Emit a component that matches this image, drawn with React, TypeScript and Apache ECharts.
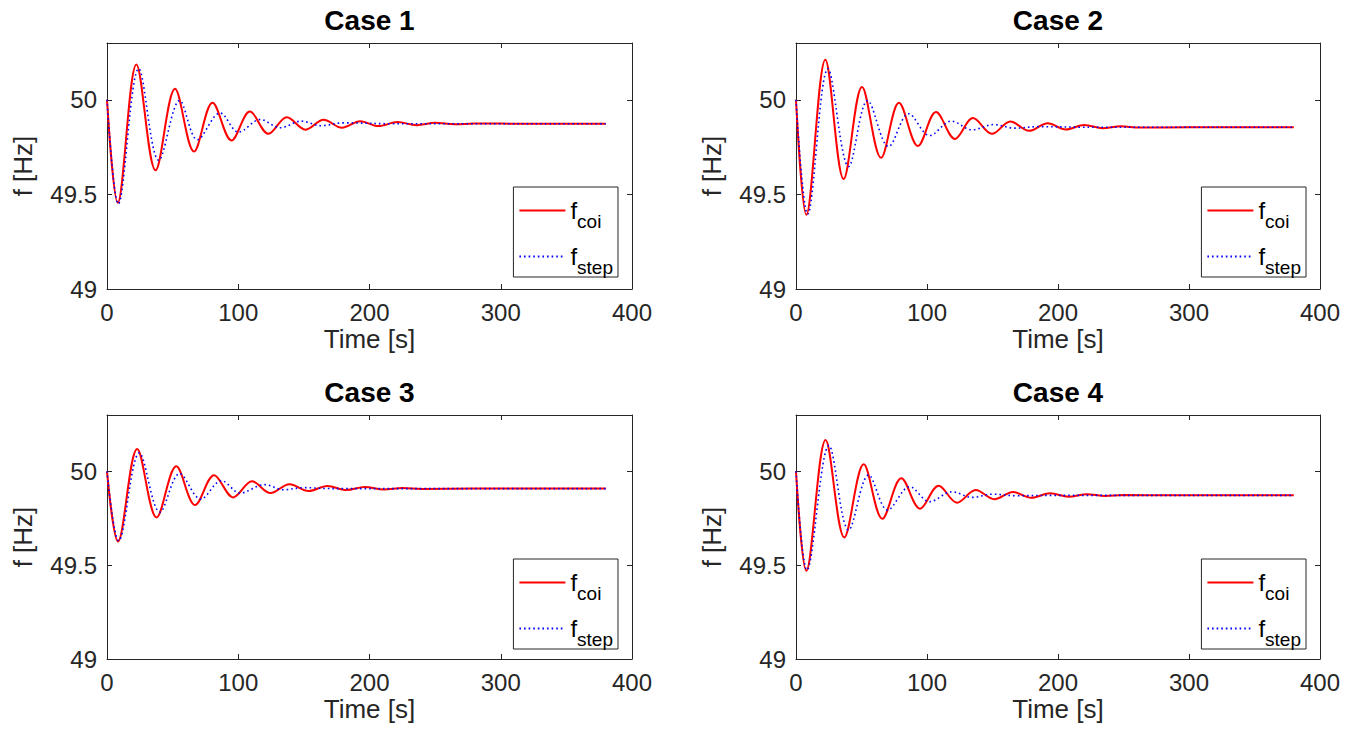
import React, { useEffect, useRef } from "react";
import * as echarts from "echarts";

// ---------- data ----------
const caseTitles = ["Case 1", "Case 2", "Case 3", "Case 4"];
const xTicks = { min: 0, max: 400, interval: 100 };
const yTicks = { min: 49, max: 50.3, interval: 0.5 };

// Case 1
const c1CoiT = [0, 8.2, 22.4, 37.0, 51.8, 66.3, 80.4, 94.9, 108.9, 123.0, 137.0, 151.3, 165.0, 179.0, 193.0, 206.6, 221.4, 236, 250, 265, 280, 320, 380];
const c1CoiF = [50.0, 49.456, 50.187, 49.627, 50.058, 49.727, 49.984, 49.785, 49.938, 49.82, 49.908, 49.842, 49.894, 49.852, 49.887, 49.861, 49.882, 49.866, 49.878, 49.87, 49.875, 49.873, 49.873];
const c1StepT = [0, 8.6, 24.2, 39.5, 55.4, 68.9, 86.2, 100.3, 116.8, 132, 148, 163, 180, 220, 380];
const c1StepF = [50.0, 49.45, 50.164, 49.68, 49.996, 49.789, 49.93, 49.829, 49.896, 49.852, 49.887, 49.863, 49.878, 49.873, 49.873];

// Case 2
const c2CoiT = [0, 7.9, 22.4, 36.4, 50.4, 64.9, 78.6, 93.1, 106.9, 121.4, 135.1, 149.6, 163.6, 177.9, 192.1, 206, 220, 234, 248, 262, 300, 380];
const c2CoiF = [50.0, 49.392, 50.212, 49.581, 50.067, 49.693, 49.984, 49.756, 49.935, 49.793, 49.903, 49.82, 49.885, 49.836, 49.876, 49.843, 49.867, 49.85, 49.86, 49.853, 49.855, 49.855];
const c2StepT = [0, 8.9, 24.4, 40.2, 54.7, 70.7, 86.0, 102.0, 118.6, 134.4, 150.9, 167, 185, 220, 380];
const c2StepF = [50.0, 49.396, 50.164, 49.647, 49.996, 49.753, 49.926, 49.811, 49.887, 49.841, 49.869, 49.85, 49.858, 49.855, 49.855];

// Case 3
const c3CoiT = [0, 8.4, 23.0, 37.8, 52.8, 67.1, 81.6, 96.2, 110.5, 124.5, 139.0, 153.6, 167.9, 182.4, 196.4, 211, 225, 240, 280, 380];
const c3CoiF = [50.0, 49.626, 50.119, 49.754, 50.027, 49.82, 49.979, 49.861, 49.947, 49.884, 49.931, 49.895, 49.922, 49.9, 49.916, 49.903, 49.911, 49.906, 49.908, 49.908];
const c3StepT = [0, 8.9, 24.7, 40.3, 55.4, 71.4, 87.2, 101.5, 119.9, 134.7, 150, 170, 380];
const c3StepF = [50.0, 49.63, 50.098, 49.783, 49.988, 49.852, 49.95, 49.884, 49.929, 49.902, 49.913, 49.908, 49.908];

// Case 4
const c4CoiT = [0, 7.9, 22.6, 36.9, 51.7, 65.9, 80.4, 94.7, 108.9, 122.9, 137.2, 151.4, 165.6, 179.6, 194.1, 208.1, 222, 236, 250, 290, 380];
const c4CoiF = [50.0, 49.47, 50.167, 49.648, 50.037, 49.747, 49.963, 49.801, 49.923, 49.833, 49.9, 49.851, 49.89, 49.859, 49.883, 49.865, 49.878, 49.869, 49.874, 49.872, 49.872];
const c4StepT = [0, 8.4, 25.2, 40.2, 55.5, 70.0, 86.8, 102.0, 119.0, 134.4, 150, 168, 200, 380];
const c4StepF = [50.0, 49.474, 50.137, 49.687, 49.98, 49.794, 49.918, 49.838, 49.891, 49.861, 49.878, 49.87, 49.872, 49.872];

const coiSeries = [
  [c1CoiT, c1CoiF],
  [c2CoiT, c2CoiF],
  [c3CoiT, c3CoiF],
  [c4CoiT, c4CoiF],
];
const stepSeries = [
  [c1StepT, c1StepF],
  [c2StepT, c2StepF],
  [c3StepT, c3StepF],
  [c4StepT, c4StepF],
];

// ---------- layout ----------
const W = 1357;
const H = 743;
const FONT = '"Liberation Sans", Arial, Helvetica, sans-serif';
const AX = "#262626";
const grids = [
  { left: 107, top: 43, width: 525, height: 246 },
  { left: 796, top: 43, width: 524, height: 246 },
  { left: 107, top: 415, width: 525, height: 244 },
  { left: 796, top: 415, width: 524, height: 244 },
];

const zip = (t: number[], f: number[]) => t.map((v, i) => [v, f[i]]);

export default function App() {
  const ref = useRef<HTMLDivElement>(null);
  useEffect(() => {
    document.body.style.margin = "0";
    const chart = echarts.init(ref.current!, undefined, { renderer: "svg" });

    const xAxes: any[] = [];
    const yAxes: any[] = [];
    const series: any[] = [];
    const legends: any[] = [];
    const graphics: any[] = [];

    grids.forEach((g, i) => {
      const tick = { show: true, inside: true, length: 5, lineStyle: { color: AX, width: 1 } };
      const line = { show: true, onZero: false, lineStyle: { color: AX, width: 1 } };
      xAxes.push({
        type: "value",
        gridIndex: i,
        position: "bottom",
        ...xTicks,
        axisLine: line,
        axisTick: tick,
        splitLine: { show: false },
        axisLabel: { color: AX, fontSize: 24, fontFamily: FONT, margin: 11 },
        name: "Time [s]",
        nameLocation: "middle",
        nameGap: 37,
        nameTextStyle: { color: AX, fontSize: 26, fontFamily: FONT },
      });
      xAxes.push({
        type: "value",
        gridIndex: i,
        position: "top",
        ...xTicks,
        axisLine: line,
        axisTick: tick,
        splitLine: { show: false },
        axisLabel: { show: false },
      });
      yAxes.push({
        type: "value",
        gridIndex: i,
        position: "left",
        ...yTicks,
        axisLine: line,
        axisTick: tick,
        splitLine: { show: false },
        axisLabel: { color: AX, fontSize: 24, fontFamily: FONT, margin: 10, showMaxLabel: false },
        name: "f [Hz]",
        nameLocation: "middle",
        nameGap: 71,
        nameTextStyle: { color: AX, fontSize: 26, fontFamily: FONT },
      });
      yAxes.push({
        type: "value",
        gridIndex: i,
        position: "right",
        ...yTicks,
        axisLine: line,
        axisTick: tick,
        splitLine: { show: false },
        axisLabel: { show: false },
      });

      series.push({
        type: "line",
        name: "coi",
        xAxisIndex: i * 2,
        yAxisIndex: i * 2,
        data: zip(coiSeries[i][0], coiSeries[i][1]),
        smooth: 0.35,
        symbol: "none",
        showSymbol: false,
        lineStyle: { color: "#ff0000", width: 2 },
        itemStyle: { color: "#ff0000" },
        z: 2,
      });
      series.push({
        type: "line",
        name: "step",
        xAxisIndex: i * 2,
        yAxisIndex: i * 2,
        data: zip(stepSeries[i][0], stepSeries[i][1]),
        smooth: 0.35,
        symbol: "none",
        showSymbol: false,
        lineStyle: { color: "#0000ff", width: 1.6, type: [1.6, 3] },
        itemStyle: { color: "#0000ff" },
        z: 3,
      });

      const boxRight = g.left + g.width - 14;
      legends.push({
        data: ["coi", "step"],
        orient: "vertical",
        right: W - boxRight,
        top: g.top + 144,
        itemWidth: 46,
        itemHeight: 1,
        itemGap: 5,
        itemTextGap: 3,
        padding: [3, 5, 0, 5],
        borderColor: AX,
        borderWidth: 1,
        backgroundColor: "#ffffff",
        selectedMode: false,
        itemStyle: { opacity: 0 },
        formatter: (name: string) => `{f|f}{s|${name}}`,
        textStyle: {
          color: "#000",
          fontFamily: FONT,
          rich: {
            f: { fontSize: 24, lineHeight: 26, color: "#000", fontFamily: FONT },
            s: { fontSize: 19, lineHeight: 16, padding: [22, 0, 0, 0], color: "#000", fontFamily: FONT },
          },
        },
      });

      graphics.push({
        type: "text",
        x: g.left + g.width / 2,
        y: g.top - 23,
        style: {
          text: caseTitles[i],
          textAlign: "center",
          textVerticalAlign: "middle",
          fontSize: 28,
          fontWeight: "bold",
          fontFamily: FONT,
          fill: "#000",
        },
      });
    });

    chart.setOption({
      animation: false,
      backgroundColor: "#ffffff",
      grid: grids.map((g) => ({ ...g, containLabel: false })),
      xAxis: xAxes,
      yAxis: yAxes,
      legend: legends,
      series,
      graphic: graphics,
    });
    return () => chart.dispose();
  }, []);
  return <div ref={ref} style={{ width: W, height: H }} />;
}
